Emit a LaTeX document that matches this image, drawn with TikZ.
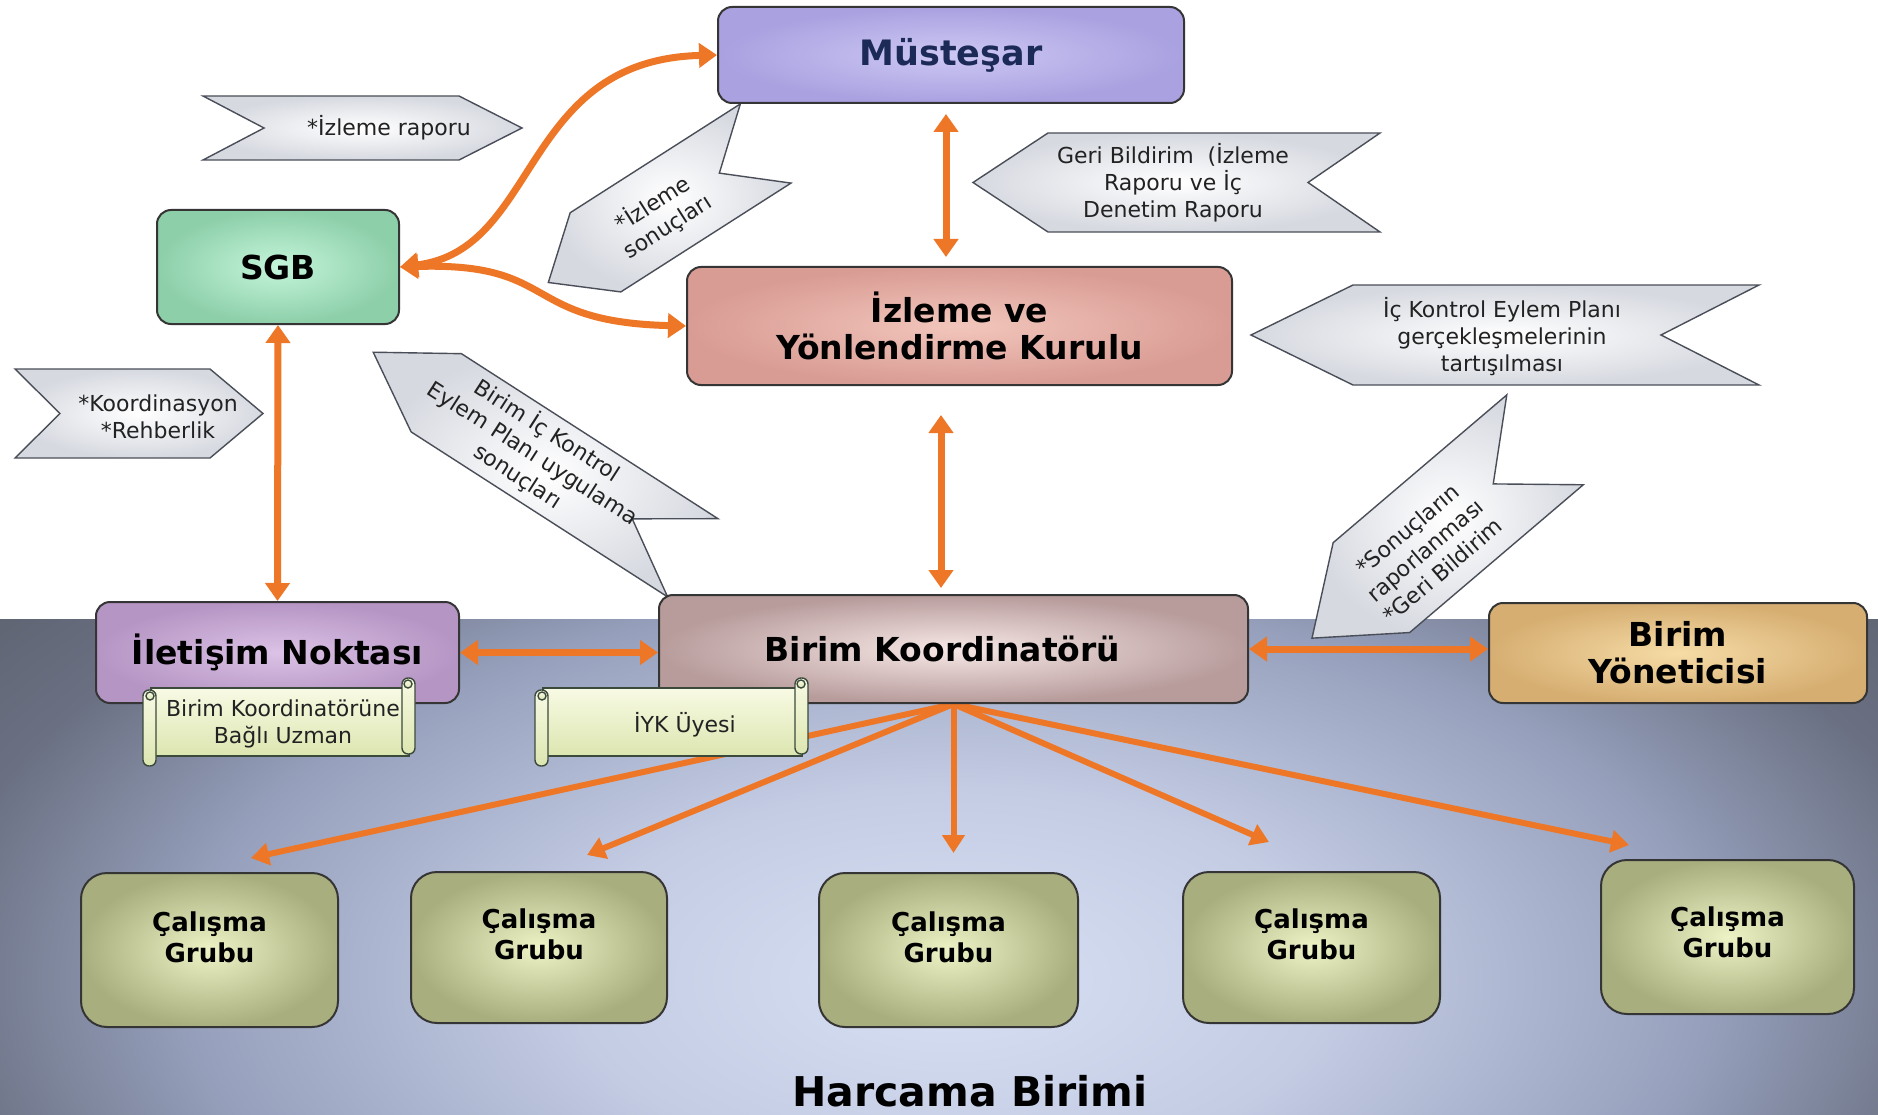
\documentclass[tikz,border=0pt]{standalone}
\usepackage{fontspec}
\setmainfont{DejaVu Sans}
\usetikzlibrary{arrows.meta,calc}

% palette
\definecolor{boxline}{HTML}{353535}
\definecolor{arrowor}{HTML}{EE7727}
\definecolor{musin}{HTML}{CDC8F4}\definecolor{musout}{HTML}{A9A1E0}
\definecolor{sgbin}{HTML}{C4F5DA}\definecolor{sgbout}{HTML}{8DCFA9}
\definecolor{iykin}{HTML}{F2C6BC}\definecolor{iykout}{HTML}{D99C94}
\definecolor{iletin}{HTML}{DCC2E6}\definecolor{iletout}{HTML}{B595C4}
\definecolor{bkin}{HTML}{F6E8E6}\definecolor{bkout}{HTML}{B89C9C}
\definecolor{byin}{HTML}{F6DCA6}\definecolor{byout}{HTML}{D6AE72}
\definecolor{grpin}{HTML}{EEF3C6}\definecolor{grpout}{HTML}{A9AE7E}
\definecolor{scrtop}{HTML}{F8FAE4}\definecolor{scrbot}{HTML}{DCE6B0}
\definecolor{scrline}{HTML}{3C4A3C}
\definecolor{chevout}{HTML}{D6D9E0}\definecolor{chevline}{HTML}{4A4E58}
\definecolor{txtdark}{HTML}{222222}
\definecolor{mustext}{HTML}{1C2A58}
\definecolor{bgA}{HTML}{D8E0F4}\definecolor{bgB}{HTML}{C4CCE4}
\definecolor{bgC}{HTML}{96A0BC}\definecolor{bgD}{HTML}{6A7082}
\definecolor{bgE}{HTML}{585C68}

\pgfdeclareradialshading{lowershade}{\pgfpoint{0bp}{0bp}}{%
  color(0bp)=(bgA); color(10bp)=(bgB); color(20bp)=(bgC);
  color(27bp)=(bgD); color(35bp)=(bgE); color(50bp)=(bgE)}

\pgfdeclarelayer{band}
\pgfdeclarelayer{fanlayer}
\pgfsetlayers{band,fanlayer,main}

\tikzset{
  box/.style={draw=boxline, line width=2pt, rounded corners=14pt,
    align=center, inner sep=0pt, text=black,
    font=\bfseries\fontsize{33}{37}\selectfont},
  grp/.style={box, rounded corners=26pt, inner color=grpin, outer color=grpout,
    font=\bfseries\fontsize{26}{31}\selectfont, text depth=26pt},
  chevfill/.style={draw=chevline, line width=1.4pt, inner color=white,
    outer color=chevout},
  chevtext/.style={align=center, font=\fontsize{22}{27}\selectfont,
    text=txtdark, inner sep=0pt},
  scrollbody/.style={draw=scrline, line width=1.4pt, top color=scrtop,
    bottom color=scrbot},
  link/.style={draw=arrowor, line width=7pt,
    {Triangle[length=18pt,width=24pt]}-{Triangle[length=18pt,width=24pt]}},
  fan/.style={draw=arrowor, line width=6pt,
    -{Triangle[length=18pt,width=22pt]}},
}

% chevron callout: centre, pointing angle, half length, half width,
% depth of the point, depth of the notch
\newcommand\chevron[6]{%
  \begin{scope}[shift={#1}, rotate=#2]
    \path[chevfill] (-#3,#4) -- (#3-#5,#4) -- (#3,0) -- (#3-#5,-#4)
      -- (-#3,-#4) -- (-#3+#6,0) -- cycle;
  \end{scope}}

% horizontal scroll: left, top, right, bottom
\newcommand\scrollshape[4]{%
  \path[scrollbody] (#1+8,#2) rectangle (#3-6,#4);
  \path[scrollbody, rounded corners=6pt] (#3-13,#2-10) rectangle (#3,#4-2);
  \path[scrollbody] (#3-7,#2-4) circle[radius=4];
  \path[scrollbody, rounded corners=6pt] (#1,#2+2) rectangle (#1+13,#4+10);
  \path[scrollbody] (#1+7,#2+8) circle[radius=4];}

\begin{document}
\begin{tikzpicture}[x=1pt, y=-1pt]
\useasboundingbox (0,0) rectangle (1878,1115);

% page and the lower band of the spending unit
\begin{pgfonlayer}{band}
  \fill[white] (0,0) rectangle (1878,1115);
  \begin{scope}
    \clip (0,619) rectangle (1878,1115);
    \shade[shading=lowershade] (0,500) rectangle (1900,1460);
  \end{scope}
\end{pgfonlayer}

% callouts
\chevron{(362.5,128)}{0}{159.5}{32}{63}{61}
\chevron{(657,213)}{212.6}{129}{47}{56}{55}
\chevron{(1176.5,182.5)}{180}{203.5}{49.5}{75}{72}
\chevron{(1505,335)}{180}{254}{50}{102}{98}
\chevron{(139,413.5)}{0}{124}{44.5}{53}{45}
\chevron{(533,455)}{147.25}{190}{46.5}{75}{72}
\chevron{(1428.5,539)}{220.4}{153}{59}{78}{68}

\node[chevtext] (t-izrap) at (389,128) {*İzleme raporu};
\node[chevtext, rotate=32.6] (t-izson) at (660,215) {*İzleme\\sonuçları};
\node[chevtext] (t-geri) at (1173,183) {Geri Bildirim\ \ (İzleme\\Raporu ve İç\\Denetim Raporu};
\node[chevtext] (t-ickon) at (1502,337) {İç Kontrol Eylem Planı\\gerçekleşmelerinin\\tartışılması};
\node[chevtext] (t-koord) at (158,417) {*Koordinasyon\\*Rehberlik};
\node[chevtext, rotate=-32.75] (t-birimic) at (533,453) {Birim İç Kontrol\\Eylem Planı uygulama\\sonuçları};
\node[chevtext, rotate=40.4] (t-sonuc) at (1425,550) {*Sonuçların\\raporlanması\\*Geri Bildirim};

% units
\node[box, minimum width=466pt, minimum height=96pt, inner color=musin,
  outer color=musout, text=mustext, font=\bfseries\fontsize{35}{40}\selectfont]
  (must) at (951,55) {Müsteşar};
\node[box, minimum width=242pt, minimum height=114pt, inner color=sgbin,
  outer color=sgbout] (sgb) at (278,267) {SGB};
\node[box, minimum width=545pt, minimum height=118pt, inner color=iykin,
  outer color=iykout] (iyk) at (959.5,326) {İzleme ve\\Yönlendirme Kurulu};
\node[box, minimum width=363pt, minimum height=101pt, inner color=iletin,
  outer color=iletout] (ilet) at (277.5,652.5) {İletişim Noktası};
\node[box, minimum width=589pt, minimum height=108pt, inner color=bkin,
  outer color=bkout] (bk) at (953.5,649) {Birim Koordinatörü\hspace{22pt}};
\node[box, minimum width=378pt, minimum height=100pt, inner color=byin,
  outer color=byout] (by) at (1678,653) {Birim\\Yöneticisi};

\node[grp, minimum width=257pt, minimum height=154pt] (g1) at (209.5,950) {Çalışma\\Grubu};
\node[grp, minimum width=256pt, minimum height=151pt] (g2) at (539,947.5) {Çalışma\\Grubu};
\node[grp, minimum width=259pt, minimum height=154pt] (g3) at (948.5,950) {Çalışma\\Grubu};
\node[grp, minimum width=257pt, minimum height=151pt] (g4) at (1311.5,947.5) {Çalışma\\Grubu};
\node[grp, minimum width=253pt, minimum height=154pt, text depth=10pt] (g5) at (1727.5,937) {Çalışma\\Grubu};

\node[font=\bfseries\fontsize{41}{46}\selectfont, inner sep=0pt] (hb) at (970,1091) {Harcama Birimi};

% links
\draw[link] (sgb.east) .. controls (540,250) and (520,60) .. (must.west);
\draw[link] (sgb.east) .. controls (560,262) and (520,322) .. (iyk.west);
\draw[link] ([shift={(-5,10)}]must.south) -- ([shift={(-13.5,-9)}]iyk.north);
\draw[link] ([shift={(-18.5,29)}]iyk.south) -- ([shift={(-12.5,-6)}]bk.north);
\draw[link] (sgb.south) -- (ilet.north);
\draw[link] (ilet.east) -- (ilet.east -| bk.west);
\draw[link] (bk.east) -- (bk.east -| by.west);

% fan out to the working groups, kept under the boxes
\coordinate (c1) at (251,858);
\coordinate (c2) at (587,855);
\coordinate (c3) at (953.5,853);
\coordinate (c4) at (1269,842);
\coordinate (c5) at (1629,845);
\begin{pgfonlayer}{fanlayer}
  \foreach \c in {c1,c2,c3,c4,c5} \draw[fan] (bk.south) -- (\c);
\end{pgfonlayer}

% scrolls
\scrollshape{143}{688}{415}{756}
\node[chevtext] (s-uzman) at (283,724) {Birim Koordinatörüne\\Bağlı Uzman};
\scrollshape{535}{688}{808}{756}
\node[chevtext] (s-iyk) at (685,725) {İYK Üyesi};
\end{tikzpicture}
\end{document}
